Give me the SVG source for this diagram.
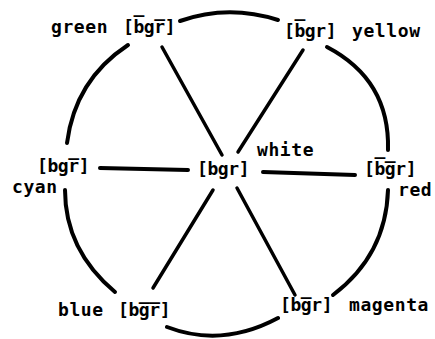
<svg xmlns="http://www.w3.org/2000/svg" width="435" height="339" viewBox="0 0 435 339">
<style>
text{font-family:"DejaVu Sans Mono","Liberation Mono",monospace;font-weight:bold;font-size:18px;fill:#000}
.w{letter-spacing:0.6px}
.b{letter-spacing:-0.4px}
.arc{fill:none;stroke:#000;stroke-width:4;stroke-linecap:round}
.spoke{fill:none;stroke:#000;stroke-width:3.5;stroke-linecap:round}
.bar{fill:none;stroke:#000;stroke-width:4;stroke-linecap:round}
</style>
<rect width="435" height="339" fill="#fff"/>
<g id="connectors">
<path class="arc" d="M180,21 Q228,4 278,20"/>
<path class="arc" d="M327,47 Q390,80 388,150"/>
<path class="arc" d="M388,190 Q386,255 333,295"/>
<path class="arc" d="M278,318 Q222,348 167,327"/>
<path class="arc" d="M115,292 Q65,250 65,190"/>
<path class="arc" d="M67,143 Q75,80 128,45"/>
<path class="spoke" d="M162,47 L222,155"/>
<path class="spoke" d="M303,50 L238,152"/>
<path class="bar" d="M100,168 L188,170"/>
<path class="bar" d="M263,172 L355,175"/>
<path class="spoke" d="M213,190 L153,288"/>
<path class="spoke" d="M237,188 L295,295"/>
</g>
<g id="green"><text class="w" x="51" y="33">green</text><text class="b" x="123" y="33">[b̅gr̅]</text></g>
<g id="yellow"><text class="b" x="284" y="37">[b̅gr]</text><text class="w" x="352" y="37">yellow</text></g>
<g id="cyan"><text class="b" x="37" y="172">[bgr̅]</text><text class="w" x="12" y="193">cyan</text></g>
<g id="white"><text class="b" x="197" y="175">[bgr]</text><text class="w" x="257" y="156">white</text></g>
<g id="red"><text class="b" x="364" y="175">[b̅g̅r]</text><text class="w" x="398" y="196">red</text></g>
<g id="blue"><text class="w" x="58" y="316">blue</text><text class="b" x="118" y="316">[bg̅r̅]</text></g>
<g id="magenta"><text class="b" x="280" y="311">[bg̅r]</text><text class="w" x="349" y="311">magenta</text></g>
</svg>
